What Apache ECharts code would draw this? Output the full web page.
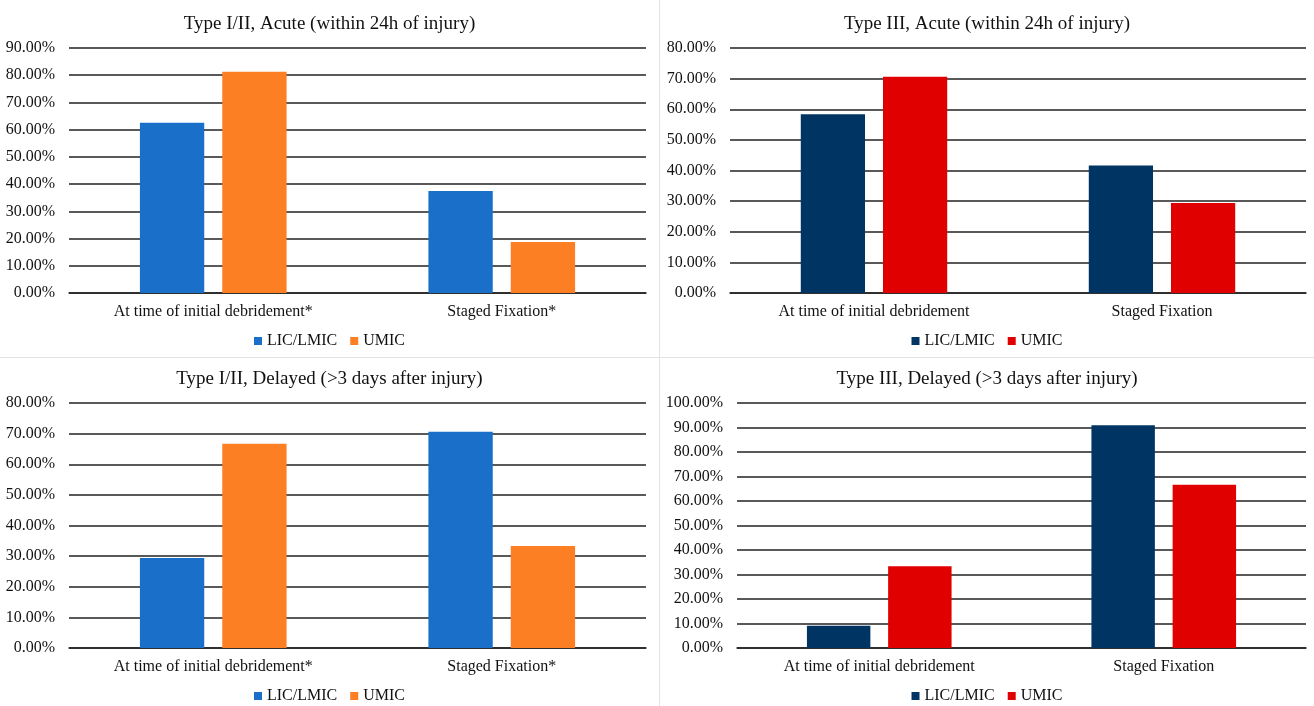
<!DOCTYPE html>
<html>
<head>
<meta charset="utf-8">
<script src="https://cdn.jsdelivr.net/npm/echarts@6/dist/echarts.min.js"></script>
<style>
  html, body { margin: 0; padding: 0; background: #fff; }
  body { width: 1314px; height: 706px; position: relative; overflow: hidden; }
  .panel { position: absolute; }
  #tl { left: 0; top: 0; width: 659px; height: 357px; border-right: 1px solid #e3e3e3; border-bottom: 1px solid #e3e3e3; }
  #tr { left: 660px; top: 0; width: 654px; height: 357px; border-bottom: 1px solid #e3e3e3; }
  #bl { left: 0; top: 358px; width: 659px; height: 348px; border-right: 1px solid #e3e3e3; }
  #br { left: 660px; top: 358px; width: 654px; height: 348px; }
</style>
</head>
<body>
<div id="tl" class="panel"></div>
<div id="tr" class="panel"></div>
<div id="bl" class="panel"></div>
<div id="br" class="panel"></div>
<script>
var seriesNames = ['LIC/LMIC', 'UMIC'];

// categories (type I/II panels carry an asterisk)
var catsStarred = ['At time of initial debridement*', 'Staged Fixation*'];
var catsPlain = ['At time of initial debridement', 'Staged Fixation'];

// percentages
var acute12Lic = [62.5, 37.5];
var acute12Umic = [81.25, 18.75];
var acute3Lic = [58.33, 41.67];
var acute3Umic = [70.59, 29.41];
var delayed12Lic = [29.41, 70.59];
var delayed12Umic = [66.67, 33.33];
var delayed3Lic = [9.09, 90.91];
var delayed3Umic = [33.33, 66.67];

var FONT = "'Liberation Serif', 'Times New Roman', serif";
var colorsTypeI = ['#1a70c8', '#fd7f24'];
var colorsTypeIII = ['#003462', '#e10000'];

function makePanel(domId, title, cats, lic, umic, yMax, colors, grid, titleTop, legendTop) {
    var chart = echarts.init(document.getElementById(domId));
    var option = {
        animation: false,
        textStyle: { fontFamily: FONT },
        title: {
            text: title,
            left: 'center',
            top: titleTop,
            textStyle: { fontFamily: FONT, fontSize: 19, fontWeight: 'normal', color: '#111' }
        },
        legend: {
            data: [
                { name: seriesNames[0], itemStyle: { color: colors[0] } },
                { name: seriesNames[1], itemStyle: { color: colors[1] } }
            ],
            left: 'center',
            top: legendTop,
            icon: 'rect',
            itemWidth: 8,
            itemHeight: 8,
            itemGap: 13,
            textStyle: { fontFamily: FONT, fontSize: 16, color: '#111' }
        },
        grid: grid,
        xAxis: {
            type: 'category',
            data: cats,
            axisTick: { show: false },
            axisLine: { lineStyle: { color: '#222', width: 1.5 } },
            axisLabel: { fontFamily: FONT, fontSize: 16, color: '#111', margin: 11 }
        },
        yAxis: {
            type: 'value',
            min: 0,
            max: yMax,
            interval: 10,
            axisLine: { show: false },
            axisTick: { show: false },
            splitLine: { lineStyle: { color: '#222', width: 1.5 } },
            axisLabel: {
                fontFamily: FONT, fontSize: 16, color: '#111', margin: 14,
                formatter: function (v) { return v.toFixed(2) + '%'; }
            }
        },
        series: [
            {
                name: seriesNames[0],
                type: 'bar',
                data: lic,
                barWidth: '22.3%',
                barGap: '28%',
                itemStyle: { color: colors[0] }
            },
            {
                name: seriesNames[1],
                type: 'bar',
                data: umic,
                barWidth: '22.3%',
                barGap: '28%',
                itemStyle: { color: colors[1] }
            }
        ]
    };
    chart.setOption(option);
    return chart;
}

makePanel('tl', 'Type I/II, Acute (within 24h of injury)', catsStarred, acute12Lic, acute12Umic, 90,
    colorsTypeI, { left: 69, right: 13, top: 48, bottom: 64 }, 10, 328);
makePanel('tr', 'Type III, Acute (within 24h of injury)', catsPlain, acute3Lic, acute3Umic, 80,
    colorsTypeIII, { left: 70, right: 8, top: 48, bottom: 64 }, 10, 328);
makePanel('bl', 'Type I/II, Delayed (>3 days after injury)', catsStarred, delayed12Lic, delayed12Umic, 80,
    colorsTypeI, { left: 69, right: 13, top: 45, bottom: 58 }, 7, 325);
makePanel('br', 'Type III, Delayed (>3 days after injury)', catsPlain, delayed3Lic, delayed3Umic, 100,
    colorsTypeIII, { left: 77, right: 8, top: 45, bottom: 58 }, 7, 325);
</script>
</body>
</html>
